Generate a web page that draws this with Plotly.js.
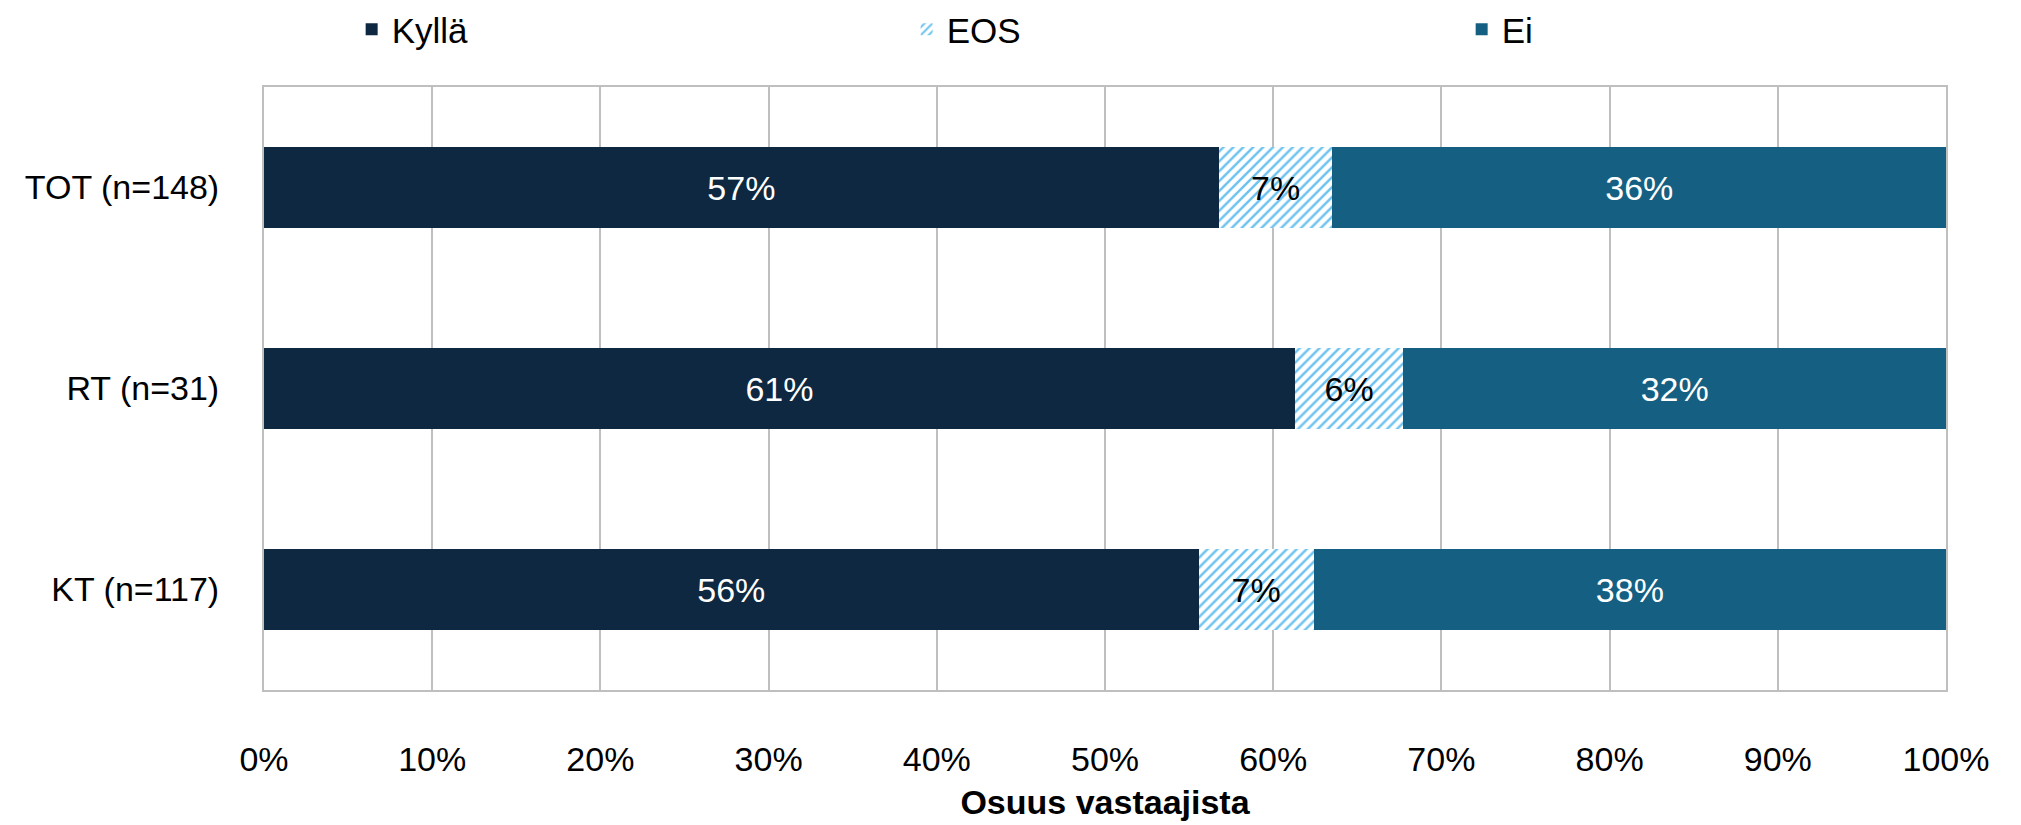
<!DOCTYPE html>
<html>
<head>
<meta charset="utf-8">
<script src="https://cdn.plot.ly/plotly-3.0.1.min.js"></script>
<style>html,body{margin:0;padding:0;background:#fff;}#chart{width:2021px;height:825px;}</style>
</head>
<body>
<div id="chart"></div>
<script>
// Data
const categories = ["TOT (n=148)", "RT (n=31)", "KT (n=117)"];
const seriesNames = ["Kyllä", "EOS", "Ei"];
const kylla = [56.76, 61.29, 55.56];
const eos = [6.76, 6.45, 6.84];
const ei = [36.49, 32.26, 37.61];
const tickValues = [0, 10, 20, 30, 40, 50, 60, 70, 80, 90, 100];
const tickLabels = ["0%", "10%", "20%", "30%", "40%", "50%", "60%", "70%", "80%", "90%", "100%"];
const xTitle = "Osuus vastaajista";

const FONT = "Liberation Sans, Arial, sans-serif";

function mk(name, vals, color, textColor, pattern) {
  const m = {color: color, line: {width: 0}};
  if (pattern) m.pattern = pattern;
  return {
    type: "bar", orientation: "h", name: name,
    y: categories, x: vals,
    marker: m,
    text: vals.map(v => Math.round(v) + "%"),
    textposition: "inside", insidetextanchor: "middle", textangle: 0,
    constraintext: "none",
    textfont: {family: FONT, size: 34, color: textColor},
    hoverinfo: "skip"
  };
}

const data = [
  mk(seriesNames[0], kylla, "#0e2841", "#ffffff"),
  mk(seriesNames[1], eos, "#ffffff", "#000000", {shape: "/", fgcolor: "#6cc2f0", bgcolor: "#ffffff", size: 7, solidity: 0.35}),
  mk(seriesNames[2], ei, "#156082", "#ffffff")
];

const layout = {
  width: 2021, height: 825,
  margin: {l: 264, r: 75, t: 87, b: 135, pad: 0},
  paper_bgcolor: "#ffffff", plot_bgcolor: "#ffffff",
  barmode: "stack", bargap: 0.6,
  font: {family: FONT, size: 34, color: "#000000"},
  showlegend: true,
  legend: {
    orientation: "h", xref: "container", yref: "container",
    x: 0.174, xanchor: "left", y: 1.0, yanchor: "top",
    entrywidth: 510, entrywidthmode: "pixels",
    font: {family: FONT, size: 35, color: "#000000"},
    traceorder: "normal", itemclick: false, itemdoubleclick: false
  },
  xaxis: {
    range: [0, 100], tickvals: tickValues, ticktext: tickLabels,
    showgrid: true, gridcolor: "#bfbfbf", gridwidth: 2,
    showline: true, linecolor: "#bfbfbf", linewidth: 2, mirror: true,
    zeroline: false, ticks: "", ticklabelstandoff: 38,
    tickfont: {family: FONT, size: 34, color: "#000000"},
    title: {text: "<b>" + xTitle + "</b>", font: {family: FONT, size: 34, color: "#000000"}, standoff: 13},
    fixedrange: true
  },
  yaxis: {
    type: "category", autorange: "reversed",
    showgrid: false, showline: true, linecolor: "#bfbfbf", linewidth: 2, mirror: true,
    zeroline: false, ticks: "", ticklabelstandoff: 36,
    tickfont: {family: FONT, size: 34, color: "#000000"},
    fixedrange: true
  }
};

Plotly.newPlot("chart", data, layout, {displayModeBar: false, staticPlot: true});
</script>
</body>
</html>
